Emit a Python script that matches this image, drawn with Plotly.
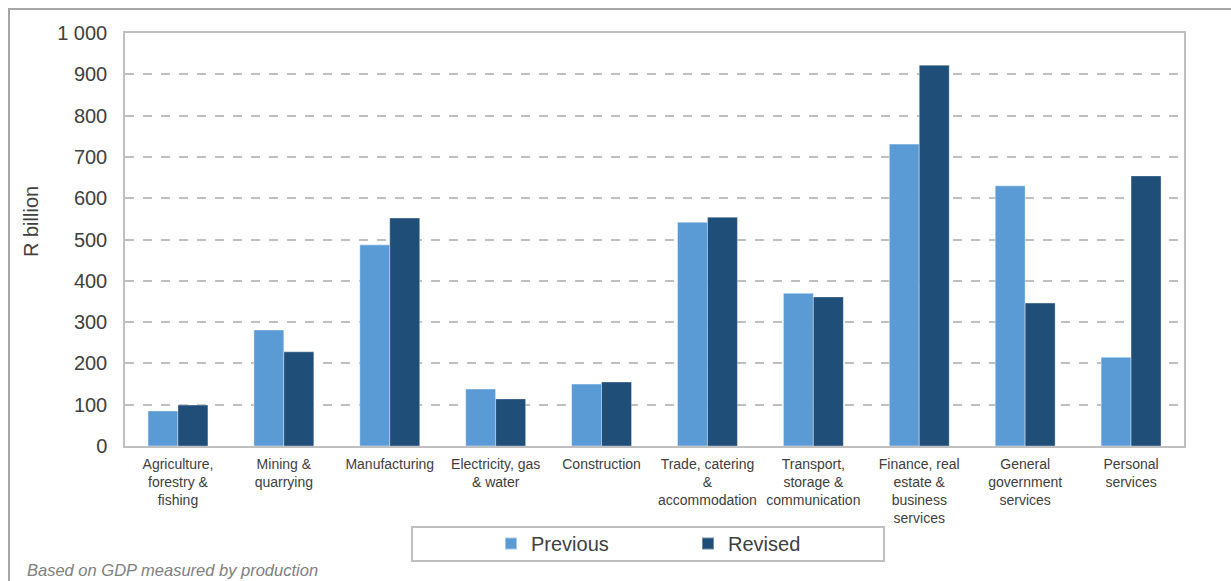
import plotly.graph_objects as go

# Sector labels (line breaks follow the wrapped axis labels)
sectors = [
    "Agriculture,<br>forestry &<br>fishing",
    "Mining &<br>quarrying",
    "Manufacturing",
    "Electricity, gas<br>& water",
    "Construction",
    "Trade, catering<br>&<br>accommodation",
    "Transport,<br>storage &<br>communication",
    "Finance, real<br>estate &<br>business<br>services",
    "General<br>government<br>services",
    "Personal<br>services",
]

# Value added by sector, R billion
previous = [85, 281, 487, 138, 150, 542, 370, 731, 630, 215]
revised = [99, 228, 552, 114, 155, 554, 361, 922, 346, 654]

y_ticks = [0, 100, 200, 300, 400, 500, 600, 700, 800, 900, 1000]
y_tick_text = ["0", "100", "200", "300", "400", "500", "600", "700", "800", "900", "1 000"]

W, H = 1231, 581
L, R, T, B = 125, 47, 33, 135
pw, ph = W - L - R, H - T - B


def px_x(x):
    return (x - L) / pw


def px_y(y):
    return (H - B - y) / ph


FONT = "Liberation Sans, Arial, sans-serif"
TEXT = "#404040"

fig = go.Figure()
fig.add_trace(go.Bar(
    name="Previous", x=sectors, y=previous,
    marker=dict(color="#5B9BD5", line=dict(color="rgba(255,255,255,0.45)", width=1)),
))
fig.add_trace(go.Bar(
    name="Revised", x=sectors, y=revised,
    marker=dict(color="#1F4E79", line=dict(color="rgba(255,255,255,0.35)", width=1)),
))

fig.update_layout(
    width=W, height=H,
    margin=dict(l=L, r=R, t=T, b=B, pad=0),
    paper_bgcolor="white", plot_bgcolor="white",
    barmode="group", bargap=0.434, bargroupgap=0,
    font=dict(family=FONT, color=TEXT),
    showlegend=True,
    legend=dict(
        orientation="h", x=px_x(491), y=px_y(524), xanchor="left", yanchor="top",
        bgcolor="rgba(0,0,0,0)", borderwidth=0,
        font=dict(size=20, color=TEXT, family=FONT),
        entrywidth=152, entrywidthmode="pixels", itemsizing="constant",
    ),
    xaxis=dict(
        showgrid=False, showline=True, linecolor="#BFBFBF", linewidth=1.5, mirror=True,
        ticks="outside", ticklen=4, tickcolor="rgba(0,0,0,0)",
        tickfont=dict(size=14, color=TEXT, family=FONT), tickangle=0,
    ),
    yaxis=dict(
        range=[0, 1000], tickvals=y_ticks, ticktext=y_tick_text,
        showgrid=True, gridcolor="#BFBFBF", griddash="dash", gridwidth=1.5,
        showline=True, linecolor="#BFBFBF", linewidth=1.5, mirror=True,
        zeroline=False,
        ticks="outside", ticklen=12, tickcolor="rgba(0,0,0,0)",
        tickfont=dict(size=20, color=TEXT, family=FONT),
    ),
    shapes=[
        # outer chart frame
        dict(type="rect", xref="paper", yref="paper",
             x0=px_x(9), x1=px_x(1240), y0=px_y(590), y1=px_y(9),
             line=dict(color="#A6A6A6", width=2), fillcolor="rgba(0,0,0,0)", layer="below"),
        # legend box
        dict(type="rect", xref="paper", yref="paper",
             x0=px_x(412), x1=px_x(884), y0=px_y(561), y1=px_y(527),
             line=dict(color="#BFBFBF", width=2), fillcolor="rgba(0,0,0,0)"),
    ],
    annotations=[
        dict(text="R billion", xref="paper", yref="paper", x=px_x(31), y=px_y(222),
             textangle=-90, showarrow=False, xanchor="center", yanchor="middle",
             font=dict(size=20, color=TEXT, family=FONT)),
        dict(text="<i>Based on GDP measured by production</i>", xref="paper", yref="paper",
             x=px_x(25), y=px_y(570), showarrow=False, xanchor="left", yanchor="middle",
             font=dict(size=16.5, color="#808080", family=FONT)),
    ],
)

fig.write_html("out.html")
